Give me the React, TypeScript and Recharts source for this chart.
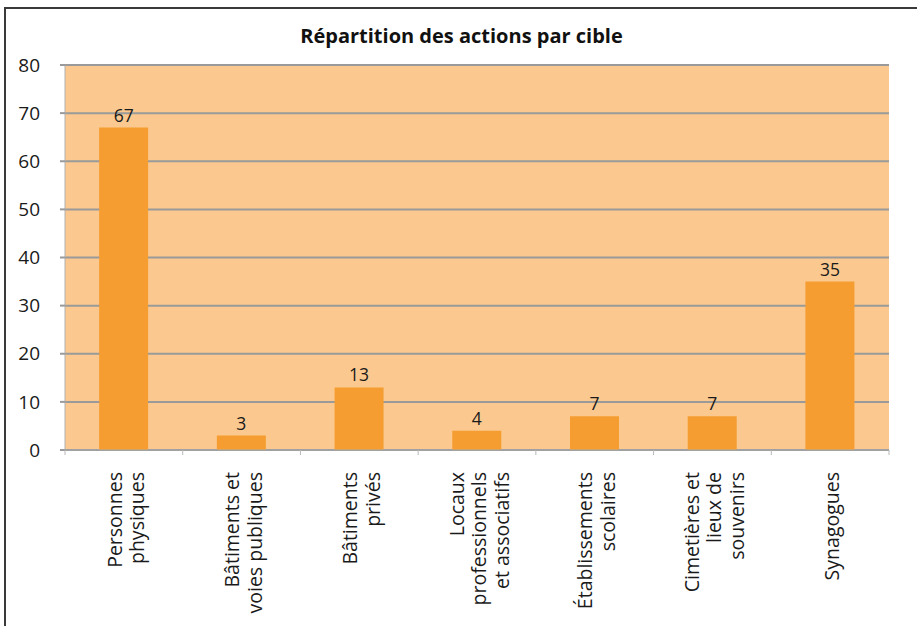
import React from 'react';
import { BarChart, Bar, XAxis, YAxis, CartesianGrid, LabelList } from 'recharts';

const categories = [
  'Personnes\nphysiques',
  'Bâtiments et\nvoies publiques',
  'Bâtiments\nprivés',
  'Locaux\nprofessionnels\net associatifs',
  'Établissements\nscolaires',
  'Cimetières et\nlieux de\nsouvenirs',
  'Synagogues',
];
const values = [67, 3, 13, 4, 7, 7, 35];
const yTicks = [0, 10, 20, 30, 40, 50, 60, 70, 80];

const data = categories.map((name, i) => ({ name, value: values[i] }));

const W = 917;
const H = 626;
const MARGIN = { top: 65, right: 28, left: 10, bottom: 0 };
const Y_W = 55;
const BAND = (W - MARGIN.left - MARGIN.right - Y_W) / categories.length;
const FONT = '"Open Sans", "DejaVu Sans", sans-serif';

const CategoryTick = ({ x, y, payload, index }: any) => {
  const lines = String(payload.value).split('\n');
  const lh = 22.5;
  const start = -((lines.length - 1) / 2) * lh + 9;
  return (
    <g>
      <line x1={x - BAND / 2} x2={x - BAND / 2} y1={y} y2={y + 5} stroke="#b8b8b8" />
      {index === categories.length - 1 && (
        <line x1={x + BAND / 2} x2={x + BAND / 2} y1={y} y2={y + 5} stroke="#b8b8b8" />
      )}
      <g transform={`translate(${x},${y + 22}) rotate(-90)`}>
        <text textAnchor="end" fill="#1a1a1a" fontSize={19.5} fontFamily={FONT}>
          {lines.map((l, i) => (
            <tspan key={i} x={0} y={start + i * lh}>
              {l}
            </tspan>
          ))}
        </text>
      </g>
    </g>
  );
};

export default function App() {
  return (
    <div style={{ position: 'fixed', left: 0, top: 0, width: W, height: H, overflow: 'hidden', background: '#fff' }}>
      <div
        style={{
          position: 'absolute',
          left: 0,
          width: W,
          top: 22,
          textAlign: 'center',
          fontFamily: FONT,
          fontWeight: 700,
          fontSize: 20,
          color: '#111',
          paddingLeft: 6,
          boxSizing: 'border-box',
        }}
      >
        Répartition des actions par cible
      </div>
      <div style={{ position: 'absolute', left: 0, top: 0 }}>
        <BarChart width={W} height={H} data={data} margin={MARGIN} barCategoryGap="29%">
          <CartesianGrid vertical={false} stroke="#9a9a9a" strokeWidth={2} fill="#FBC98F" fillOpacity={1} />
          <XAxis
            dataKey="name"
            interval={0}
            height={H - 450}
            tickSize={0}
            tickMargin={0}
            tickLine={false}
            axisLine={{ stroke: '#a8a8a8' }}
            tick={<CategoryTick />}
          />
          <YAxis
            width={Y_W}
            domain={[0, 80]}
            ticks={yTicks}
            interval={0}
            tickSize={5}
            tickMargin={20}
            tickLine={{ stroke: '#9a9a9a', strokeWidth: 2 }}
            axisLine={{ stroke: '#b0b0b0' }}
            tick={{ fill: '#1a1a1a', fontSize: 19, fontFamily: FONT }}
          />
          <Bar dataKey="value" fill="#F59D30" isAnimationActive={false}>
            <LabelList dataKey="value" position="top" offset={6} fill="#1a1a1a" fontSize={17.5} fontFamily={FONT} />
          </Bar>
        </BarChart>
      </div>
      <div
        style={{
          position: 'absolute',
          left: 4,
          top: 7,
          width: 960,
          height: 660,
          border: '2px solid #3a3a3a',
          boxSizing: 'border-box',
          pointerEvents: 'none',
        }}
      />
    </div>
  );
}
